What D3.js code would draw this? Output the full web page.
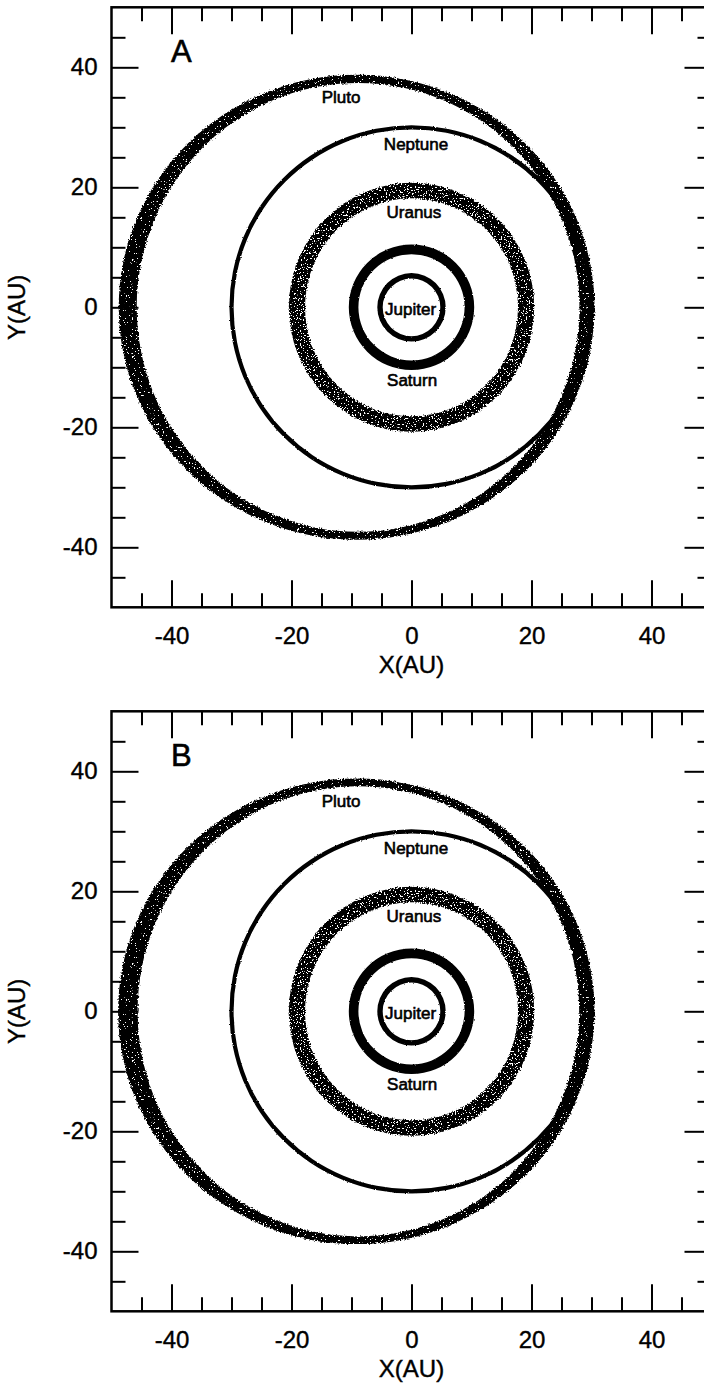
<!DOCTYPE html>
<html>
<head>
<meta charset="utf-8">
<script src="https://cdn.jsdelivr.net/npm/d3@7"></script>
<style>
  body { margin: 0; background: #fff; }
  svg { display: block; }
</style>
</head>
<body>
<svg id="chart"></svg>
<script>
// orbit bands (AU). each band = outer edge ellipse minus inner edge ellipse
const planets = ["Jupiter", "Saturn", "Uranus", "Neptune", "Pluto"];
const outerCx = [0, 0, 0, 0, -9.15];
const outerRx = [5.7, 10.45, 20.45, 30.35, 39.65];
const outerRy = [5.7, 10.45, 20.75, 30.35, 38.75];
const innerCx = [0, 0, 0, 0, -8.9];
const innerRx = [4.8, 8.85, 17.75, 29.65, 36.9];
const innerRy = [4.8, 8.85, 18.15, 29.65, 37.4];

// panel B differs a little for Pluto
const plutoOuterB = [-9.2, 39.7, 38.8];
const plutoInnerB = [-8.85, 36.8, 37.5];

// label anchors (AU, text baseline)
const labelX = [-0.15, 0.1, 0.4, 0.75, -11.75];
const labelY = [-1.3, -13.2, 14.8, 26.2, 34.05];

const panelNames = ["A", "B"];
const majorTicks = [-40, -20, 0, 20, 40];
const minorTicks = [-45, -35, -30, -25, -15, -10, -5, 5, 10, 15, 25, 30, 35, 45];

const width = 704, height = 1390;
const fontFamily = "'Liberation Sans', Arial, Helvetica, sans-serif";

const svg = d3.select("#chart")
  .attr("width", width)
  .attr("height", height);

svg.append("rect").attr("width", width).attr("height", height).attr("fill", "#fff");

const defs = svg.append("defs");

function addFilter(id, freq, disp, cut) {
  const f = defs.append("filter").attr("id", id)
    .attr("x", "-5%").attr("y", "-5%").attr("width", "110%").attr("height", "110%")
    .attr("color-interpolation-filters", "sRGB");
  f.append("feTurbulence").attr("type", "fractalNoise").attr("baseFrequency", freq)
    .attr("numOctaves", 2).attr("seed", 5).attr("result", "noise");
  f.append("feDisplacementMap").attr("in", "SourceGraphic").attr("in2", "noise")
    .attr("scale", disp).attr("xChannelSelector", "R").attr("yChannelSelector", "G")
    .attr("result", "rough");
  if (cut == null) return;
  f.append("feColorMatrix").attr("in", "noise").attr("type", "matrix")
    .attr("values", "0 0 0 0 0  0 0 0 0 0  0 0 0 0 0  -40 0 0 0 " + (40 * cut + 0.5))
    .attr("result", "holes");
  f.append("feComposite").attr("in", "rough").attr("in2", "holes").attr("operator", "in");
}
addFilter("rough", 0.9, 2, null);
addFilter("speckleLight", 0.65, 4, 0.64);
addFilter("speckleDense", 0.65, 4, 0.7);

const bandFilter = ["rough", "rough", "speckleLight", "rough", "speckleDense"];

const x = d3.scaleLinear().domain([-50, 50]).range([111.5, 711.5]);
const y = d3.scaleLinear().domain([-50, 50]).range([600, 0]);

function ellipse(cx, rx, ry) {
  const X0 = x(cx), Y0 = y(0);
  const RX = x(cx + rx) - X0, RY = y(0) - y(ry);
  return "M" + (X0 + RX) + "," + Y0 +
    "A" + RX + "," + RY + " 0 1 0 " + (X0 - RX) + "," + Y0 +
    "A" + RX + "," + RY + " 0 1 0 " + (X0 + RX) + "," + Y0 + "Z";
}

function styleAxis(g) {
  g.select(".domain").remove();
  g.selectAll(".tick line").attr("stroke", "#000").attr("stroke-width", 2);
  g.attr("font-family", fontFamily).attr("font-size", 24);
  g.selectAll(".tick text").attr("fill", "#000")
    .attr("stroke", "#000").attr("stroke-width", 0.4);
}

function drawPanel(top, p) {
  const panel = svg.append("g").attr("transform", "translate(0," + top + ")");

  const bands = planets.map((name, i) => {
    let o = [outerCx[i], outerRx[i], outerRy[i]];
    let n = [innerCx[i], innerRx[i], innerRy[i]];
    if (p === 1 && name === "Pluto") { o = plutoOuterB; n = plutoInnerB; }
    return { name, o, n, filter: bandFilter[i], lx: labelX[i], ly: labelY[i] };
  });

  panel.append("g").attr("class", "orbits")
    .selectAll("path")
    .data(bands)
    .join("path")
    .attr("d", d => ellipse(d.o[0], d.o[1], d.o[2]) + ellipse(d.n[0], d.n[1], d.n[2]))
    .attr("fill-rule", "evenodd")
    .attr("fill", "#000")
    .attr("filter", d => "url(#" + d.filter + ")");

  panel.append("g").attr("class", "labels")
    .selectAll("text")
    .data(bands)
    .join("text")
    .attr("x", d => x(d.lx))
    .attr("y", d => y(d.ly))
    .attr("text-anchor", "middle")
    .attr("font-family", fontFamily)
    .attr("font-size", 17)
    .attr("fill", "#000")
    .attr("stroke", "#000").attr("stroke-width", 0.6)
    .text(d => d.name);

  // frame
  panel.append("rect")
    .attr("x", x(-50)).attr("y", y(50))
    .attr("width", x(50) - x(-50)).attr("height", y(-50) - y(50))
    .attr("fill", "none").attr("stroke", "#000").attr("stroke-width", 2.5);

  // ticks, all pointing inward
  const sides = [
    [d3.axisBottom(x), "translate(0," + y(-50) + ")", 20],
    [d3.axisTop(x), "translate(0," + y(50) + ")", null],
    [d3.axisLeft(y), "translate(" + x(-50) + ",0)", 14],
    [d3.axisRight(y), "translate(" + x(50) + ",0)", null]
  ];
  sides.forEach(([axis, tr, pad]) => {
    panel.append("g").attr("transform", tr)
      .call(axis.tickValues(minorTicks).tickSize(-14).tickFormat(""))
      .call(styleAxis);
    panel.append("g").attr("transform", tr)
      .call(axis.tickValues(majorTicks).tickSize(-27)
        .tickPadding(pad || 0)
        .tickFormat(pad ? (d => String(d)) : ""))
      .call(styleAxis);
  });

  panel.append("text")
    .attr("x", x(0)).attr("y", y(-50) + 66)
    .attr("text-anchor", "middle")
    .attr("font-family", fontFamily).attr("font-size", 24)
    .attr("stroke", "#000").attr("stroke-width", 0.4)
    .text("X(AU)");

  panel.append("text")
    .attr("transform", "translate(25," + y(0) + ") rotate(-90)")
    .attr("text-anchor", "middle")
    .attr("font-family", fontFamily).attr("font-size", 24)
    .attr("stroke", "#000").attr("stroke-width", 0.4)
    .text("Y(AU)");

  panel.append("text")
    .attr("x", x(-40) - 0.5).attr("y", y(50) + 55)
    .attr("font-family", fontFamily).attr("font-size", 31)
    .attr("stroke", "#000").attr("stroke-width", 0.6)
    .text(panelNames[p]);
}

drawPanel(7.3, 0);
drawPanel(711.3, 1);
</script>
</body>
</html>
